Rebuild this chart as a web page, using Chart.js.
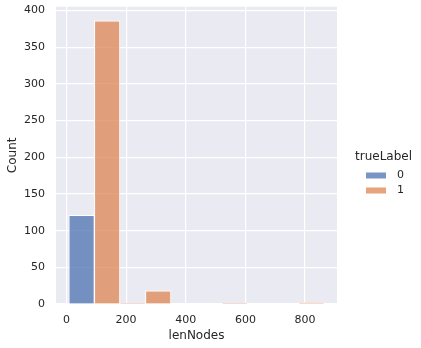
<!DOCTYPE html>
<html>
<head>
<meta charset="utf-8">
<script src="https://cdn.jsdelivr.net/npm/chart.js@4"></script>
<style>
  html, body { margin: 0; padding: 0; background: #fff; }
  #wrap { width: 421px; height: 348px; }
</style>
</head>
<body>
<div id="wrap"><canvas id="histChart" width="421" height="348"></canvas></div>
<script>
// histogram bins (lenNodes) and counts per trueLabel
const binEdges = [8, 93.6, 179.2, 264.8, 350.4, 436, 521.6, 607.2, 692.8, 778.4, 864];
const countsLabel0 = [121, 0, 0, 0, 0, 0, 0, 0, 0, 0];
const countsLabel1 = [0, 386, 1, 18, 0, 0, 1, 0, 0, 2];
const seriesNames = ['0', '1'];
const xTicks = [0, 200, 400, 600, 800];
const yTicks = [0, 50, 100, 150, 200, 250, 300, 350, 400];

const textColor = '#262626';
const fontFamily = '"DejaVu Sans", sans-serif';

function toPoints(counts) {
  return counts.map((c, i) => ({ x: (binEdges[i] + binEdges[i + 1]) / 2, y: c }));
}

// grey axes background like seaborn darkgrid
const bgPlugin = {
  id: 'bg',
  beforeDraw(chart) {
    const { ctx, chartArea: a } = chart;
    ctx.save();
    ctx.fillStyle = '#eaeaf2';
    ctx.fillRect(a.left, a.top, a.right - a.left, a.bottom - a.top);
    ctx.restore();
  }
};

// legend drawn to the right, outside the axes
const sideLegend = {
  id: 'sideLegend',
  afterDraw(chart) {
    const ctx = chart.ctx;
    ctx.save();
    ctx.fillStyle = textColor;
    ctx.textBaseline = 'middle';
    ctx.textAlign = 'left';
    ctx.font = '12px ' + fontFamily;
    ctx.fillText('trueLabel', 355, 157);
    ctx.font = '11px ' + fontFamily;
    chart.data.datasets.forEach((ds, i) => {
      const y = 175.5 + i * 15;
      ctx.fillStyle = ds.backgroundColor;
      ctx.fillRect(366, y - 3, 20, 6);
      ctx.fillStyle = textColor;
      ctx.fillText(ds.label, 397, y);
    });
    ctx.restore();
  }
};

const ctx = document.getElementById('histChart').getContext('2d');
new Chart(ctx, {
  type: 'bar',
  data: {
    datasets: [
      {
        label: seriesNames[0],
        data: toPoints(countsLabel0),
        backgroundColor: 'rgba(76, 114, 176, 0.75)',
        borderColor: '#ffffff',
        borderWidth: 1
      },
      {
        label: seriesNames[1],
        data: toPoints(countsLabel1),
        backgroundColor: 'rgba(221, 132, 82, 0.75)',
        borderColor: '#ffffff',
        borderWidth: 1
      }
    ]
  },
  options: {
    responsive: false,
    animation: false,
    devicePixelRatio: 1,
    grouped: false,
    barPercentage: 1,
    categoryPercentage: 1,
    layout: { padding: { top: 6.7, right: 84, left: 0, bottom: 0 } },
    plugins: {
      legend: { display: false },
      tooltip: { enabled: false }
    },
    scales: {
      x: {
        type: 'linear',
        min: -35,
        max: 907,
        offset: false,
        grid: { color: '#ffffff', lineWidth: 1.2, drawTicks: false, offset: false },
        border: { display: false },
        ticks: { color: textColor, font: { family: fontFamily, size: 11 }, padding: 10 },
        afterBuildTicks(scale) { scale.ticks = xTicks.map(v => ({ value: v })); },
        afterFit(scale) {
          scale.height = 44;
          scale.paddingLeft = 0;
          scale.paddingRight = 0;
        },
        title: {
          display: true,
          text: 'lenNodes',
          color: textColor,
          font: { family: fontFamily, size: 12 },
          padding: { top: 0, bottom: 5 }
        }
      },
      y: {
        min: 0,
        max: 405.3,
        grid: { color: '#ffffff', lineWidth: 1.2, drawTicks: false },
        border: { display: false },
        ticks: { color: textColor, font: { family: fontFamily, size: 11 }, padding: 11 },
        afterBuildTicks(scale) { scale.ticks = yTicks.map(v => ({ value: v })); },
        afterFit(scale) {
          scale.width = 56;
          scale.paddingTop = 0;
          scale.paddingBottom = 0;
        },
        title: {
          display: true,
          text: 'Count',
          color: textColor,
          font: { family: fontFamily, size: 12 },
          padding: { top: 6, bottom: 0 }
        }
      }
    }
  },
  plugins: [bgPlugin, sideLegend]
});
</script>
</body>
</html>
